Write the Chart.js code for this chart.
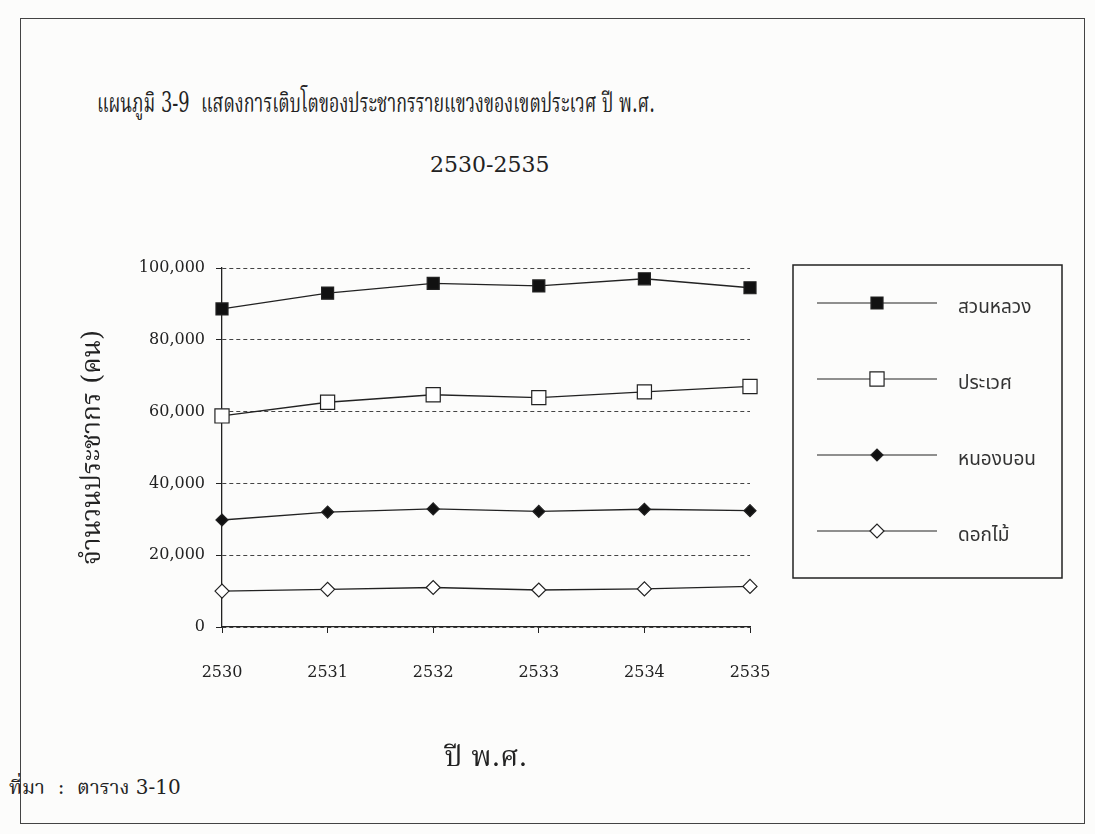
<!DOCTYPE html>
<html lang="th">
<head>
  <meta charset="UTF-8">
  <title>แผนภูมิ 3-9</title>
  <script src="https://cdn.jsdelivr.net/npm/chart.js"></script>
  <style>
    body { margin: 0; background: #fff; }
    .page { position: relative; width: 1095px; height: 834px; overflow: hidden; background: #fcfcfb; }
    .frame { position: absolute; left: 20px; top: 18px; width: 1065px; height: 806px; border: 1px solid #444; box-sizing: border-box; }
    .txt { position: absolute; font-family: "DejaVu Serif", "Noto Serif Thai", "Noto Sans Thai", serif; color: #222; white-space: nowrap; transform-origin: left top; }
    #t1 { left: 97px; top: 83px; font-size: 27px; transform: scaleX(0.66); }
    #t2 { left: 430px; top: 152px; font-size: 22px; }
    #src { left: 9px; top: 773px; font-size: 20px; }
    canvas { position: absolute; left: 0; top: 0; }
  </style>
</head>
<body>
<div class="page">
  <div class="frame"></div>
  <div class="txt" id="t1">แผนภูมิ 3-9&nbsp; แสดงการเติบโตของประชากรรายแขวงของเขตประเวศ ปี พ.ศ.</div>
  <div class="txt" id="t2">2530-2535</div>
  <div class="txt" id="src">ที่มา&nbsp; :&nbsp; ตาราง 3-10</div>
  <canvas id="myChart" width="1095" height="834"></canvas>
</div>

<script>
  var years = ['2530', '2531', '2532', '2533', '2534', '2535'];
  var seriesNames = ['สวนหลวง', 'ประเวศ', 'หนองบอน', 'ดอกไม้'];
  var suanLuang = [88600, 93000, 95700, 95000, 97000, 94500];
  var prawet = [58800, 62600, 64700, 63900, 65500, 67000];
  var nongBon = [29800, 32000, 32900, 32200, 32800, 32400];
  var dokMai = [10000, 10500, 11000, 10300, 10600, 11300];
  var yTicks = [0, 20000, 40000, 60000, 80000, 100000];

  var serif = "'DejaVu Serif', 'Noto Serif Thai', 'Noto Sans Thai', serif";

  // legend drawn as a boxed list, like the original
  const boxLegend = {
    id: 'boxLegend',
    afterDraw(chart) {
      const ctx = chart.ctx;
      const area = chart.chartArea;
      const x0 = area.right + 43, y0 = area.top - 3;
      const w = 269, h = 313;
      ctx.save();
      ctx.strokeStyle = '#222';
      ctx.lineWidth = 1.5;
      ctx.strokeRect(x0, y0, w, h);
      chart.data.datasets.forEach(function(ds, i) {
        const y = y0 + 38 + i * 76;
        ctx.strokeStyle = '#222';
        ctx.lineWidth = 1.2;
        ctx.beginPath();
        ctx.moveTo(x0 + 24, y);
        ctx.lineTo(x0 + 144, y);
        ctx.stroke();
        ctx.fillStyle = ds.pointBackgroundColor;
        ctx.strokeStyle = '#222';
        ctx.lineWidth = 1.2;
        Chart.helpers.drawPoint(ctx, {pointStyle: ds.pointStyle, radius: ds.pointRadius, rotation: 0, borderWidth: 1.2}, x0 + 84, y);
        ctx.fillStyle = '#333';
        ctx.font = "19px 'DejaVu Sans', 'Noto Sans Thai', sans-serif";
        ctx.textBaseline = 'middle';
        ctx.fillText(seriesNames[i], x0 + 165, y + 5);
      });
      ctx.restore();
    }
  };

  function makeSet(name, values, style, fill, radius) {
    return {
      label: name,
      data: values,
      borderColor: '#222',
      borderWidth: 1.3,
      pointStyle: style,
      pointRadius: radius,
      pointHoverRadius: radius,
      pointBackgroundColor: fill,
      pointBorderColor: '#222',
      pointBorderWidth: 1.2,
      tension: 0
    };
  }

  const ctx = document.getElementById('myChart');

  const data = {
    labels: years,
    datasets: [
      makeSet(seriesNames[0], suanLuang, 'rect', '#111', 8.5),
      makeSet(seriesNames[1], prawet, 'rect', '#fff', 10),
      makeSet(seriesNames[2], nongBon, 'rectRot', '#111', 6),
      makeSet(seriesNames[3], dokMai, 'rectRot', '#fff', 7)
    ]
  };

  const config = {
    type: 'line',
    data: data,
    options: {
      responsive: false,
      animation: false,
      layout: { padding: { left: 74, right: 345, top: 268, bottom: 48 } },
      plugins: {
        legend: { display: false },
        tooltip: { enabled: false }
      },
      scales: {
        x: {
          offset: false,
          grid: { drawOnChartArea: false, drawTicks: true, tickLength: 6, tickColor: '#222' },
          border: { display: true, color: '#222', width: 1.3 },
          ticks: { color: '#222', padding: 30, maxRotation: 0, font: { family: serif, size: 16 } },
          title: { display: true, text: 'ปี พ.ศ.', color: '#222', padding: { top: 4, bottom: 10 }, font: { family: serif, size: 28 } },
          afterFit: function(scale) { scale.height = 159; }
        },
        y: {
          min: 0,
          max: 100000,
          afterBuildTicks: function(scale) { scale.ticks = yTicks.map(function(v) { return {value: v}; }); },
          grid: { color: '#444', lineWidth: 1, tickLength: 6, tickColor: '#222' },
          border: { display: true, color: '#222', width: 1.3, dash: [4, 3] },
          ticks: {
            color: '#222', padding: 11, font: { family: serif, size: 16 },
            callback: function(v) { return v.toLocaleString('en-US'); }
          },
          title: { display: true, text: 'จำนวนประชากร (คน)', color: '#222', padding: 4, font: { family: serif, size: 26 } },
          afterFit: function(scale) { scale.width = 148; }
        }
      }
    },
    plugins: [boxLegend]
  };

  var chart = new Chart(ctx, config);
</script>
</body>
</html>
